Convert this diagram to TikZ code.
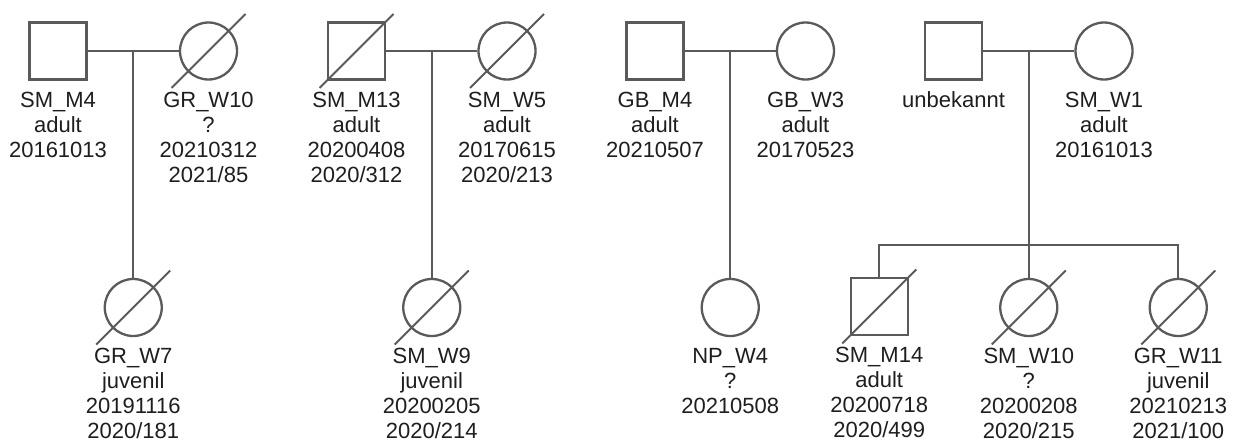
\documentclass[tikz,border=0pt]{standalone}
\usepackage{fontspec}
\setmainfont{Liberation Sans}
\usetikzlibrary{positioning,calc}
\definecolor{pedgray}{HTML}{5A5A5A}
\definecolor{pedtext}{HTML}{1E1E1E}
\tikzset{
  person/.style={draw=pedgray,line width=2.3pt,minimum size=57pt,inner sep=0pt,fill=white},
  male/.style={person,rectangle},
  female/.style={person,circle},
  info/.style={text=pedtext,font=\fontsize{22}{25}\selectfont,align=center,inner sep=0pt},
  link/.style={draw=pedgray,line width=2.3pt},
  dead/.style={draw=pedgray,line width=1.9pt},
}
\begin{document}
\begin{tikzpicture}[x=1pt,y=-1pt]
\useasboundingbox (0,0) rectangle (1236,442);
% parents
\node[male]   (smM4)  at (58,51)     {};
\node[female] (grW10) at (208.5,51)  {};
\node[male]   (smM13) at (356.5,51)  {};
\node[female] (smW5)  at (507,51)    {};
\node[male]   (gbM4)  at (655,51)    {};
\node[female] (gbW3)  at (805.5,51)  {};
\node[male]   (unb)   at (953.5,51)  {};
\node[female] (smW1)  at (1104,51)   {};
% children
\node[female] (grW7)  at (133.25,307.5)  {};
\node[female] (smW9)  at (431.75,307.5)  {};
\node[female] (npW4)  at (730.25,307.5)  {};
\node[male]   (smM14) at (879.25,306.5)  {};
\node[female] (smW10) at (1028.75,307.5) {};
\node[female] (grW11) at (1178.25,307.5) {};
% couples and descent
\foreach \m/\w/\c in {smM4/grW10/grW7,smM13/smW5/smW9,gbM4/gbW3/npW4}{
  \draw[link] (\m) -- (\w);
  \draw[link] ($(\m)!0.5!(\w)$) -- (\c);
}
\draw[link] (unb) -- (smW1);
\coordinate (sib) at (1028.75,245);
\draw[link] ($(unb)!0.5!(smW1)$) -- (smW10);
\draw[link] (smM14.north) -- (smM14.north |- sib) -- (grW11.north |- sib) -- (grW11.north);
% deceased
\foreach \n in {grW10,smM13,smW5,grW7,smW9,smM14,smW10,grW11}
  \draw[dead] ([shift={(-37,37)}]\n.center) -- ([shift={(37,-37)}]\n.center);
% labels
\foreach \n/\t in {smM4/{SM\_M4\\adult\\20161013},
                   grW10/{GR\_W10\\?\\20210312\\2021/85},
                   smM13/{SM\_M13\\adult\\20200408\\2020/312},
                   smW5/{SM\_W5\\adult\\20170615\\2020/213},
                   gbM4/{GB\_M4\\adult\\20210507},
                   gbW3/{GB\_W3\\adult\\20170523},
                   unb/{unbekannt},
                   smW1/{SM\_W1\\adult\\20161013},
                   grW7/{GR\_W7\\juvenil\\20191116\\2020/181},
                   smW9/{SM\_W9\\juvenil\\20200205\\2020/214},
                   npW4/{NP\_W4\\?\\20210508},
                   smM14/{SM\_M14\\adult\\20200718\\2020/499},
                   smW10/{SM\_W10\\?\\20200208\\2020/215},
                   grW11/{GR\_W11\\juvenil\\20210213\\2021/100}}
  \node[info,below=11pt of \n] (\n-t) {\t};
\end{tikzpicture}
\end{document}
